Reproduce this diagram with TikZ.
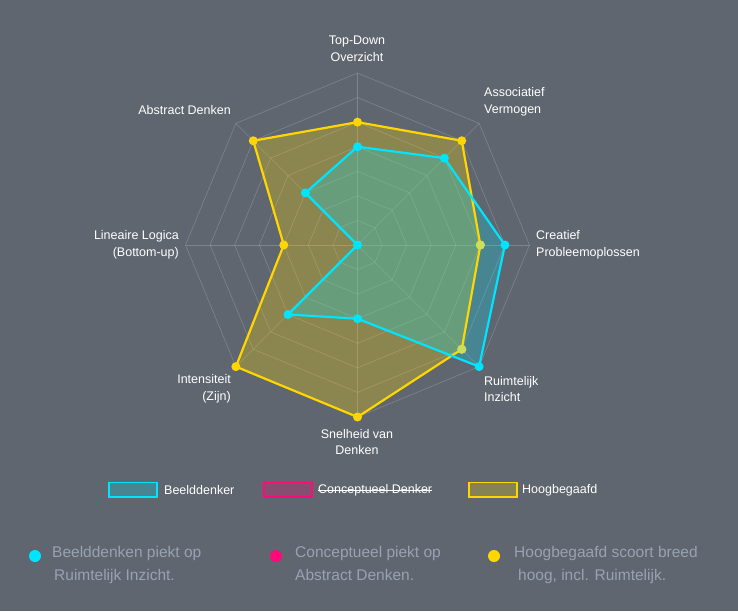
\documentclass[tikz,border=0pt]{standalone}
\usepackage{fontspec}
\setmainfont{Liberation Sans}
\usetikzlibrary{calc}
\begin{document}
\begin{tikzpicture}[x=1pt,y=-1pt,
  lab/.style={text=white,font=\fontsize{12.5}{16.5}\selectfont,inner sep=0pt},
  note/.style={text=textgray,font=\fontsize{15.5}{23}\selectfont,inner sep=0pt,align=left,anchor=north west},
  grid/.style={draw=gray!60,line width=0.6pt,opacity=0.4}]
\definecolor{bg}{HTML}{5F6670}
\definecolor{cyanc}{HTML}{00E5FF}
\definecolor{goldc}{HTML}{FFD600}
\definecolor{pinkc}{HTML}{FF0A78}
\definecolor{textgray}{HTML}{98A2B0}
\fill[bg] (0,0) rectangle (738,611);
\useasboundingbox (0,0) rectangle (738,611);
\coordinate (C) at (357.5,245);
\def\R{172}
\foreach \k in {1,...,7}{
  \draw[grid] ($(C)+(-90:\k*\R/7)$) \foreach \a in {-45,0,45,90,135,180,-135}{ -- ($(C)+(\a:\k*\R/7)$)} -- cycle;
}
\foreach \a in {-90,-45,0,45,90,135,180,-135}{\draw[grid] (C) -- ($(C)+(\a:\R)$);}
\def\gold{{5,6,5,6,7,7,3,6}}
\def\cyan{{4,5,6,7,3,4,0,3}}
\def\gpath{($(C)+(-90:{5*\R/7})$) \foreach \i/\a in {1/-45,2/0,3/45,4/90,5/135,6/180,7/-135}{ -- ($(C)+(\a:{\gold[\i]*\R/7})$)} -- cycle}
\def\cpath{($(C)+(-90:{4*\R/7})$) \foreach \i/\a in {1/-45,2/0,3/45,4/90,5/135,6/180,7/-135}{ -- ($(C)+(\a:{\cyan[\i]*\R/7})$)} -- cycle}
\fill[goldc,opacity=0.28] \gpath;
\fill[cyanc,opacity=0.25] \cpath;
\draw[goldc,line width=2.2pt,line join=round] \gpath;
\draw[cyanc,line width=2.2pt,line join=round] \cpath;
\foreach \i/\a in {0/-90,1/-45,2/0,3/45,4/90,5/135,6/180,7/-135}{
  \fill[goldc] ($(C)+(\a:{\gold[\i]*\R/7})$) circle (4.5);
  \fill[cyanc] ($(C)+(\a:{\cyan[\i]*\R/7})$) circle (4.5);
}
\fill[goldc!75!cyanc!85!white] ($(C)+(0:{5*\R/7})$) circle (4.5);
\fill[goldc!75!cyanc!85!white] ($(C)+(45:{6*\R/7})$) circle (4.5);
\node[lab,align=center,anchor=center] (l1) at (357,49) {Top-Down\\Overzicht};
\node[lab,align=left,anchor=west] (l2) at (484,102) {Associatief\\Vermogen};
\node[lab,align=left,anchor=west] (l3) at (536,245) {Creatief\\Probleemoplossen};
\node[lab,align=left,anchor=west] (l4) at (484,389) {Ruimtelijk\\Inzicht};
\node[lab,align=center,anchor=center] (l5) at (357,442) {Snelheid van\\Denken};
\node[lab,align=right,anchor=east] (l6) at (231,389) {Intensiteit\\(Zijn)};
\node[lab,align=right,anchor=east] (l7) at (179,245) {Lineaire Logica\\(Bottom-up)};
\node[lab,align=right,anchor=east] (l8) at (231,110) {Abstract Denken};
\draw[cyanc,line width=1.8pt,fill=cyanc,fill opacity=0.25] (109,482.5) rectangle (157,497);
\node[lab,anchor=west] (g1) at (164,490) {Beelddenker};
\draw[pinkc,line width=1.8pt,fill=pinkc,fill opacity=0.25] (264,482.5) rectangle (312,497);
\node[lab,anchor=west] (g2) at (318,490) {Conceptueel Denker};
\draw[white,line width=0.9pt] (g2.west) -- (g2.east);
\draw[goldc,line width=1.8pt,fill=goldc,fill opacity=0.25] (469,482.5) rectangle (517,497);
\node[lab,anchor=west] (g3) at (522,490) {Hoogbegaafd};
\fill[cyanc] (35,556) circle (6);
\node[note] (n1) at (52,546) {Beelddenken piekt op\\\hspace*{2pt}Ruimtelijk Inzicht.};
\fill[pinkc] (276,556) circle (6);
\node[note] (n2) at (295,546) {Conceptueel piekt op\\Abstract Denken.};
\fill[goldc] (494,556) circle (6);
\node[note] (n3) at (514,546) {Hoogbegaafd scoort breed\\\hspace*{4pt}hoog, incl. Ruimtelijk.};
\end{tikzpicture}
\end{document}
